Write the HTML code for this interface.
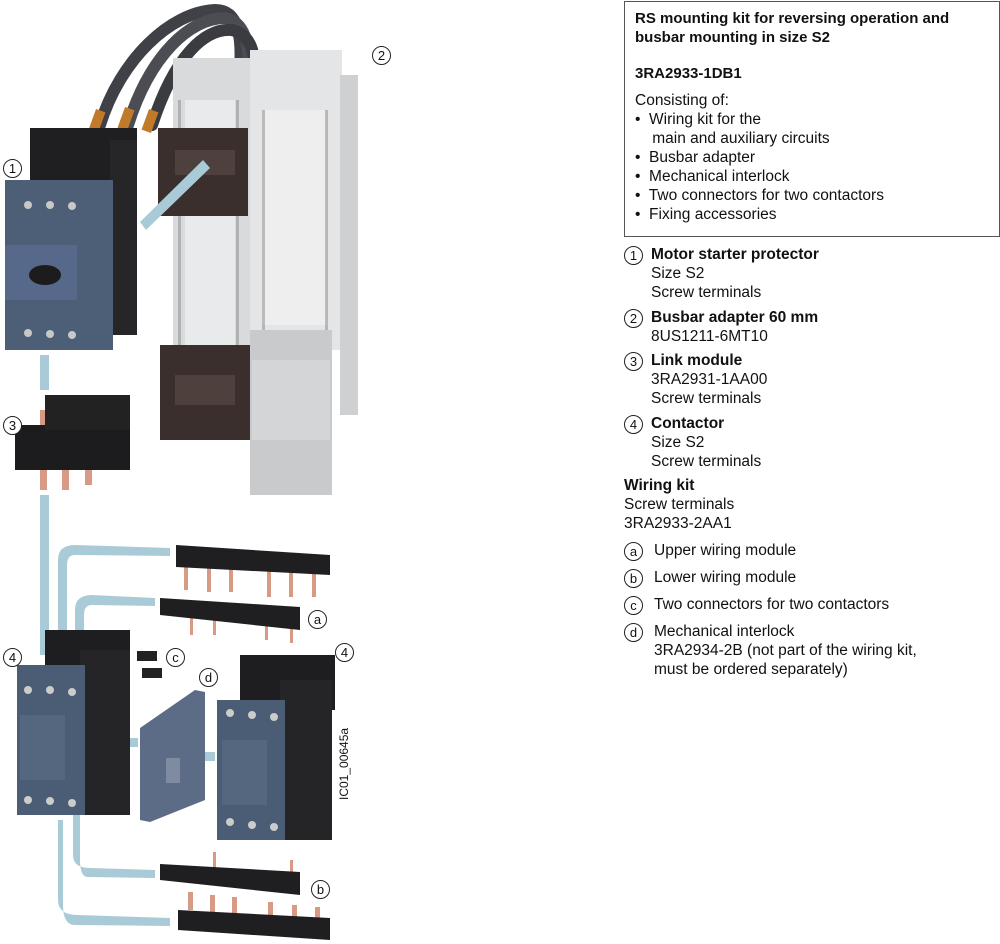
<!DOCTYPE html>
<html><head><meta charset="utf-8"><style>
body{margin:0;background:#fff;width:1000px;height:944px;position:relative;overflow:hidden;font-family:"Liberation Sans",sans-serif;color:#111}
.t{position:absolute;font-size:15.5px;line-height:19px;white-space:nowrap}
.tb{font-size:15px}
b{font-weight:bold}
.c{position:absolute;width:17px;height:17px;border:1px solid #222;border-radius:50%;font-size:13px;line-height:17px;text-align:center;background:#fff}
.box{position:absolute;left:624px;top:1px;width:374px;height:234px;border:1px solid #555}
</style></head><body>
<svg width="400" height="944" style="position:absolute;left:0;top:0">
<g fill="none" stroke-linecap="round">
<path d="M100 125 C120 60 170 12 215 10 C240 10 242 40 240 70" stroke="#3f4147" stroke-width="12"/>
<path d="M128 125 C150 55 190 18 225 18 C245 22 250 45 248 70" stroke="#4b4d53" stroke-width="12"/>
<path d="M152 125 C175 55 205 28 232 30 C252 35 255 55 254 70" stroke="#3a3c42" stroke-width="12"/>
</g>
<rect x="92" y="110" width="10" height="22" fill="#c07a2a" transform="rotate(20 97 121)"/>
<rect x="121" y="108" width="10" height="22" fill="#c07a2a" transform="rotate(20 126 119)"/>
<rect x="145" y="110" width="10" height="22" fill="#c07a2a" transform="rotate(20 150 121)"/>
<rect x="173" y="58" width="78" height="380" fill="#d9dadb"/>
<rect x="250" y="50" width="92" height="300" fill="#e4e5e6"/>
<rect x="340" y="75" width="18" height="340" fill="#cfd0d2"/>
<rect x="185" y="100" width="50" height="330" fill="#e9eaeb"/>
<rect x="262" y="110" width="65" height="215" fill="#eeeeef"/>
<g fill="#888"><rect x="178" y="100" width="3" height="330" opacity=".5"/><rect x="236" y="100" width="3" height="330" opacity=".5"/><rect x="262" y="110" width="3" height="220" opacity=".5"/><rect x="325" y="110" width="3" height="220" opacity=".5"/></g>
<rect x="250" y="330" width="82" height="165" fill="#c9cacb"/>
<rect x="252" y="360" width="78" height="80" fill="#d4d5d6"/>
<rect x="158" y="128" width="90" height="88" fill="#3b2f2d"/>
<rect x="160" y="345" width="90" height="95" fill="#3b2f2d"/>
<rect x="175" y="150" width="60" height="25" fill="#4d403d"/>
<rect x="175" y="375" width="60" height="30" fill="#4d403d"/>
<g fill="#a9cbd8">
<polygon points="140,222 203,160 210,168 146,230"/>
<rect x="40" y="355" width="9" height="35"/>
<rect x="40" y="495" width="9" height="160"/>
<path d="M58 660 L58 560 Q58 545 75 545 L170 548 L170 556 L75 555 Q67 555 67 565 L67 660Z"/>
<path d="M75 720 L75 610 Q75 595 92 595 L155 598 L155 606 L92 605 Q84 605 84 615 L84 720Z"/>
<path d="M73 795 L73 855 Q73 868 90 868 L155 870 L155 878 L88 877 Q80 877 80 860 L80 795Z"/>
<path d="M58 820 L58 900 Q58 915 78 915 L170 918 L170 926 L75 925 Q63 925 63 905 L63 820Z"/>
<rect x="108" y="738" width="30" height="9"/>
<rect x="185" y="752" width="30" height="9"/>
</g>
<rect x="30" y="128" width="107" height="70" fill="#1f1f21"/>
<rect x="110" y="140" width="27" height="195" fill="#262628"/>
<rect x="5" y="180" width="108" height="170" fill="#4d5e77"/>
<rect x="5" y="245" width="72" height="55" fill="#57698a"/>
<ellipse cx="45" cy="275" rx="16" ry="10" fill="#1c1c1c"/>
<g fill="#c8c8c8"><circle cx="28" cy="205" r="4"/><circle cx="50" cy="205" r="4"/><circle cx="72" cy="206" r="4"/><circle cx="28" cy="333" r="4"/><circle cx="50" cy="334" r="4"/><circle cx="72" cy="335" r="4"/></g>
<g fill="#d99a85"><rect x="40" y="410" width="7" height="80"/><rect x="62" y="400" width="7" height="90"/><rect x="85" y="405" width="7" height="80"/></g>
<rect x="15" y="425" width="115" height="45" fill="#1c1c1e"/>
<rect x="45" y="395" width="85" height="35" fill="#222"/>
<rect x="45" y="630" width="85" height="55" fill="#1e1e20"/>
<rect x="80" y="650" width="50" height="165" fill="#252527"/>
<rect x="17" y="665" width="68" height="150" fill="#4b5c75"/>
<rect x="20" y="715" width="45" height="65" fill="#55677f"/>
<g fill="#ccc"><circle cx="28" cy="690" r="4"/><circle cx="50" cy="690" r="4"/><circle cx="72" cy="692" r="4"/><circle cx="28" cy="800" r="4"/><circle cx="50" cy="801" r="4"/><circle cx="72" cy="803" r="4"/></g>
<rect x="137" y="651" width="20" height="10" fill="#222"/>
<rect x="142" y="668" width="20" height="10" fill="#222"/>
<polygon points="140,728 195,690 205,692 205,800 150,822 140,820" fill="#5c6c86"/>
<rect x="166" y="758" width="14" height="25" fill="#7f8ba0"/>
<rect x="240" y="655" width="95" height="55" fill="#1e1e20"/>
<rect x="280" y="680" width="52" height="160" fill="#252527"/>
<rect x="217" y="700" width="68" height="140" fill="#4b5c75"/>
<rect x="222" y="740" width="45" height="65" fill="#55677f"/>
<g fill="#ccc"><circle cx="230" cy="713" r="4"/><circle cx="252" cy="715" r="4"/><circle cx="274" cy="717" r="4"/><circle cx="230" cy="822" r="4"/><circle cx="252" cy="825" r="4"/><circle cx="274" cy="827" r="4"/></g>
<g fill="#d99a85"><rect x="184" y="560" width="4" height="30"/><rect x="207" y="560" width="4" height="32"/><rect x="229" y="560" width="4" height="32"/><rect x="267" y="565" width="4" height="32"/><rect x="289" y="565" width="4" height="32"/><rect x="312" y="565" width="4" height="32"/>
<rect x="190" y="615" width="3" height="20"/><rect x="213" y="615" width="3" height="20"/><rect x="265" y="615" width="3" height="25"/><rect x="290" y="618" width="3" height="25"/>
<rect x="213" y="852" width="3" height="20"/><rect x="290" y="860" width="3" height="20"/>
<rect x="188" y="892" width="5" height="18"/><rect x="210" y="895" width="5" height="18"/><rect x="232" y="897" width="5" height="18"/><rect x="268" y="902" width="5" height="18"/><rect x="292" y="905" width="5" height="18"/><rect x="315" y="907" width="5" height="18"/></g>
<polygon points="176,545 330,555 330,575 176,567" fill="#1f1f21"/>
<polygon points="160,598 300,607 300,630 160,615" fill="#1f1f21"/>
<polygon points="160,864 300,872 300,895 160,880" fill="#1f1f21"/>
<polygon points="178,910 330,918 330,940 178,930" fill="#1f1f21"/>
<text x="348" y="800" transform="rotate(-90 348 800)" font-family="Liberation Sans" font-size="12" fill="#111">IC01_00645a</text>
</svg>
<div class="c" style="left:3px;top:159px">1</div>
<div class="c" style="left:372px;top:46px">2</div>
<div class="c" style="left:3px;top:416px">3</div>
<div class="c" style="left:3px;top:648px">4</div>
<div class="c" style="left:335px;top:643px">4</div>
<div class="c" style="left:308px;top:610px">a</div>
<div class="c" style="left:311px;top:880px">b</div>
<div class="c" style="left:166px;top:648px">c</div>
<div class="c" style="left:199px;top:668px">d</div>

<div class="box"></div>
<div class="t tb" style="left:635px;top:9px"><b>RS mounting kit for reversing operation and<br>busbar mounting in size S2</b></div>
<div class="t tb" style="left:635px;top:64px"><b>3RA2933-1DB1</b></div>
<div class="t" style="left:635px;top:91px">Consisting of:<br>•&nbsp; Wiring kit for the<br>&nbsp;&nbsp;&nbsp;&nbsp;main and auxiliary circuits<br>•&nbsp; Busbar adapter<br>•&nbsp; Mechanical interlock<br>•&nbsp; Two connectors for two contactors<br>•&nbsp; Fixing accessories</div>

<div class="c" style="left:624px;top:246px">1</div>
<div class="t" style="left:651px;top:245px"><b>Motor starter protector</b><br>Size S2<br>Screw terminals</div>
<div class="c" style="left:624px;top:309px">2</div>
<div class="t" style="left:651px;top:308px"><b>Busbar adapter 60 mm</b><br>8US1211-6MT10</div>
<div class="c" style="left:624px;top:352px">3</div>
<div class="t" style="left:651px;top:351px"><b>Link module</b><br>3RA2931-1AA00<br>Screw terminals</div>
<div class="c" style="left:624px;top:415px">4</div>
<div class="t" style="left:651px;top:414px"><b>Contactor</b><br>Size S2<br>Screw terminals</div>
<div class="t" style="left:624px;top:476px"><b>Wiring kit</b><br>Screw terminals<br>3RA2933-2AA1</div>
<div class="c" style="left:624px;top:542px">a</div>
<div class="t" style="left:654px;top:541px">Upper wiring module</div>
<div class="c" style="left:624px;top:569px">b</div>
<div class="t" style="left:654px;top:568px">Lower wiring module</div>
<div class="c" style="left:624px;top:596px">c</div>
<div class="t" style="left:654px;top:595px">Two connectors for two contactors</div>
<div class="c" style="left:624px;top:623px">d</div>
<div class="t" style="left:654px;top:622px">Mechanical interlock<br>3RA2934-2B (not part of the wiring kit,<br>must be ordered separately)</div>
</body></html>
